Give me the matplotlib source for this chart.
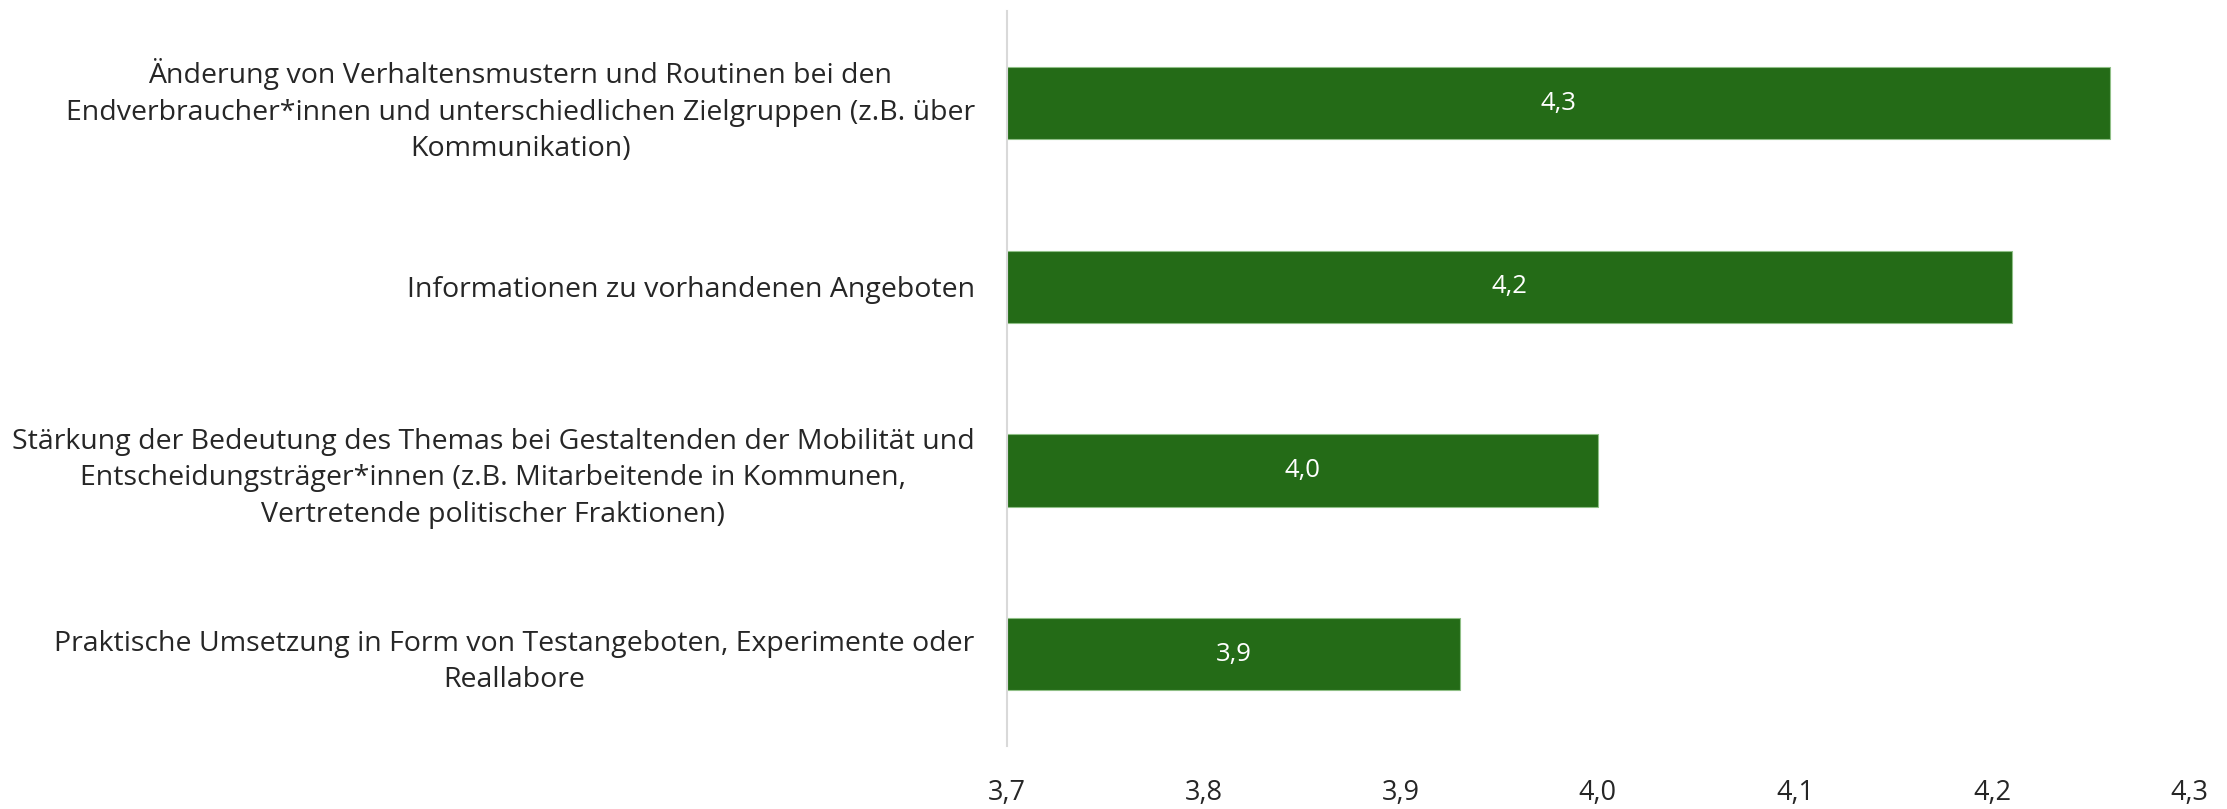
import matplotlib
matplotlib.use("Agg")
import matplotlib.pyplot as plt
from matplotlib import font_manager

categories = [
    "Änderung von Verhaltensmustern und Routinen bei den\nEndverbraucher*innen und unterschiedlichen Zielgruppen (z.B. über\nKommunikation)",
    "Informationen zu vorhandenen Angeboten",
    "Stärkung der Bedeutung des Themas bei Gestaltenden der Mobilität und\nEntscheidungsträger*innen (z.B. Mitarbeitende in Kommunen,\nVertretende politischer Fraktionen)",
    "Praktische Umsetzung in Form von Testangeboten, Experimente oder\nReallabore",
]
values = [4.26, 4.21, 4.00, 3.93]
value_labels = ["4,3", "4,2", "4,0", "3,9"]
xticks = [3.7, 3.8, 3.9, 4.0, 4.1, 4.2, 4.3]
xtick_labels = ["3,7", "3,8", "3,9", "4,0", "4,1", "4,2", "4,3"]

names = {f.name for f in font_manager.fontManager.ttflist}
fam = "Liberation Sans Narrow" if "Liberation Sans Narrow" in names else "Open Sans"
plt.rcParams['font.family'] = [fam, 'DejaVu Sans']

fig = plt.figure(figsize=(22.27, 8.09), dpi=100)
ax = fig.add_axes([0.452, 0.078, 0.531, 0.908])

bar_color = "#246B17"
y = list(range(len(categories)))
ax.barh(y, [v - 3.7 for v in values], left=3.7, height=0.395,
        color=bar_color, edgecolor="#8fbf86", linewidth=0.8)
for yi, v, lab in zip(y, values, value_labels):
    ax.text((3.7 + v) / 2, yi, lab, ha="center", va="center", color="white", fontsize=18.5)

ax.set_xlim(3.7, 4.3)
ax.set_ylim(len(categories) - 0.5, -0.5)
ax.set_xticks(xticks)
ax.set_xticklabels(xtick_labels, fontsize=19.5, color="#262626")
ax.set_yticks(y)
ax.set_yticklabels(categories, fontsize=20.5, color="#262626",
                   multialignment="center", linespacing=1.4)
ax.tick_params(axis="both", length=0)
ax.tick_params(axis="x", pad=24)
ax.tick_params(axis="y", pad=23)
for s in ["top", "right", "bottom"]:
    ax.spines[s].set_visible(False)
ax.spines["left"].set_color("#d9d9d9")
ax.spines["left"].set_linewidth(1.5)

fig.savefig("out.png", dpi=100, facecolor="white")
